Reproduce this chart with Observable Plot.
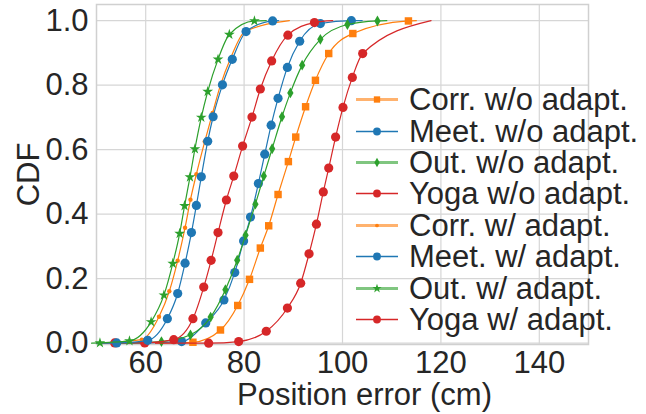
<!DOCTYPE html>
<html><head><meta charset="utf-8">
<script src="https://cdn.jsdelivr.net/npm/d3@7"></script>
<script src="https://cdn.jsdelivr.net/npm/@observablehq/plot@0.6"></script>
<style>
body{margin:0;background:#fff;}
#wrap{position:relative;width:646px;height:414px;overflow:hidden;}
#legend{position:absolute;left:350px;top:84px;font-family:"Liberation Sans",Arial,sans-serif;font-size:31px;color:#262626;}
.row{display:flex;align-items:center;height:31.4px;}
.row svg{width:52px;height:31px;flex:none;overflow:visible;}
.row span{margin-left:7px;white-space:nowrap;line-height:31px;}
g[aria-label="x-axis label"] text, g[aria-label="y-axis label"] text{font-size:31px;}
</style></head><body><div id="wrap"></div><script>
// ---- data ----
const seriesNames = ["Corr. w/o adapt.", "Meet. w/o adapt.", "Out. w/o adapt.", "Yoga w/o adapt.",
                     "Corr. w/ adapt.", "Meet. w/ adapt.", "Out. w/ adapt.", "Yoga w/ adapt."];
const xTicks = [60, 80, 100, 120, 140];
const yTicks = [0, 0.2, 0.4, 0.6, 0.8, 1.0];

const corrWoX = [69.6, 75.2, 78.7, 81.1, 83.3, 85.0, 86.9, 89.0, 90.5, 92.5, 94.5, 97.2, 102.1, 113.4];
const corrWoY = [0.003, 0.041, 0.117, 0.198, 0.295, 0.364, 0.461, 0.563, 0.639, 0.733, 0.815, 0.898, 0.960, 0.999];
const meetWoX = [67.3, 72.2, 75.9, 78.1, 79.9, 81.3, 82.9, 84.2, 85.5, 86.9, 88.8, 91.3, 95.5, 101.8];
const meetWoY = [0.005, 0.063, 0.134, 0.219, 0.317, 0.391, 0.495, 0.586, 0.676, 0.759, 0.855, 0.936, 0.991, 1.0];
const outWoX  = [63.2, 69.1, 73.2, 76.2, 78.6, 80.3, 82.3, 84.0, 85.7, 87.7, 89.4, 91.8, 95.5, 101.0, 107.1];
const outWoY  = [0.005, 0.026, 0.081, 0.166, 0.257, 0.335, 0.431, 0.518, 0.603, 0.702, 0.776, 0.862, 0.942, 0.988, 0.999];
const yogaWoX = [53.7, 59.8, 65.7, 69.6, 71.8, 73.3, 74.7, 76.4, 77.9, 79.7, 81.6, 83.3, 85.6, 88.9, 94.3];
const yogaWoY = [0.001, 0.001, 0.011, 0.076, 0.174, 0.257, 0.343, 0.444, 0.518, 0.611, 0.701, 0.788, 0.875, 0.955, 0.994];
const corrWX  = [59.2, 62.7, 64.8, 66.5, 68.0, 69.1, 70.3, 72.0, 73.6, 75.2, 77.3, 80.1];
const corrWY  = [0.011, 0.082, 0.161, 0.256, 0.358, 0.445, 0.524, 0.625, 0.714, 0.800, 0.885, 0.965];
const meetWX  = [54.1, 60.4, 64.4, 66.5, 68.0, 69.3, 70.3, 71.3, 72.6, 73.7, 75.6, 77.6, 80.4, 85.8];
const meetWY  = [0.001, 0.009, 0.076, 0.154, 0.248, 0.343, 0.427, 0.516, 0.626, 0.702, 0.801, 0.880, 0.966, 0.999];
const outWX   = [50.7, 56.7, 61.1, 63.7, 65.5, 66.9, 67.9, 69.0, 70.0, 71.3, 72.6, 74.7, 77.0, 82.1];
const outWY   = [0.001, 0.007, 0.066, 0.149, 0.247, 0.340, 0.426, 0.515, 0.602, 0.700, 0.780, 0.880, 0.957, 0.999];
const yogaWX  = [72.8, 78.9, 84.5, 88.8, 91.5, 93.2, 94.7, 96.1, 97.2, 98.6, 100.1, 102.0, 104.1];
const yogaWY  = [0.000, 0.005, 0.037, 0.109, 0.186, 0.277, 0.369, 0.469, 0.543, 0.639, 0.731, 0.824, 0.898];
// smallest / largest error in each series (CDF 0 and 1)
const lineStart = [62, 55, 55, 50, 50, 50, 49, 62];
const lineEnd   = [115, 104, 109, 98, 89.2, 87, 84.5, 118];

// ---- styles ----
const colors = ["#ff7f0e", "#1f77b4", "#2ca02c", "#d62728", "#ff7f0e", "#1f77b4", "#2ca02c", "#d62728"];
const symbols = ["square", "circle", "diamond", "circle", "circle", "circle", "star", "circle"];
const radii = [4.2, 4.6, 3.3, 4.6, 2.2, 4.6, 3.4, 4.6];
const legendFaded = [true, false, true, false, true, false, true, false];

const xs = [corrWoX, meetWoX, outWoX, yogaWoX, corrWX, meetWX, outWX, yogaWX];
const ys = [corrWoY, meetWoY, outWoY, yogaWoY, corrWY, meetWY, outWY, yogaWY];

const points = seriesNames.map((s, i) => xs[i].map((x, j) => ({series: s, x, y: ys[i][j]})));
const lines = seriesNames.map((s, i) => [{series: s, x: lineStart[i], y: 0}, ...points[i], {series: s, x: lineEnd[i], y: 1}]);

const marks = [
  Plot.gridX(xTicks, {stroke: "#d6d6d6", strokeOpacity: 1, strokeWidth: 1.2}),
  Plot.gridY(yTicks, {stroke: "#d6d6d6", strokeOpacity: 1, strokeWidth: 1.2}),
  Plot.frame({stroke: "#d0d0d0", strokeWidth: 1.5}),
  Plot.axisX({ticks: xTicks, tickSize: 0, tickPadding: 6, label: "Position error (cm)", labelAnchor: "center", labelArrow: "none", labelOffset: 62}),
  Plot.axisY({ticks: yTicks, tickSize: 0, tickPadding: 8, tickFormat: d3.format(".1f"), label: "CDF", labelAnchor: "center", labelArrow: "none", labelOffset: 80})
];
seriesNames.forEach((s, i) => {
  marks.push(Plot.line(lines[i], {x: "x", y: "y", stroke: colors[i], strokeWidth: 1.2, curve: "monotone-x"}));
  marks.push(Plot.dot(points[i], {x: "x", y: "y", symbol: symbols[i], r: radii[i], fill: colors[i], stroke: "none"}));
});

const chart = Plot.plot({
  width: 646, height: 414,
  marginLeft: 96, marginRight: 58, marginTop: 4, marginBottom: 70,
  x: {domain: [50, 150]},
  y: {domain: [-0.004, 1.05]},
  style: {fontFamily: "'Liberation Sans', Arial, sans-serif", fontSize: "31px", color: "#262626", background: "white"},
  marks
});
const wrap = document.getElementById("wrap");
wrap.appendChild(chart);
// nudge the x-axis title as in the reference
d3.select(chart).selectAll('g[aria-label="x-axis label"]').each(function() {
  const t = this.getAttribute("transform") || "";
  this.setAttribute("transform", t + " translate(22,-2)");
});

// ---- legend overlay ----
const legend = d3.select(wrap).append("div").attr("id", "legend");
seriesNames.forEach((s, i) => {
  const row = legend.append("div").attr("class", "row");
  const svg = row.append("svg");
  svg.append("line").attr("x1", 6).attr("x2", 48).attr("y1", 15.5).attr("y2", 15.5)
    .attr("stroke", colors[i]).attr("stroke-width", legendFaded[i] ? 3 : 1.5)
    .attr("stroke-opacity", legendFaded[i] ? 0.6 : 1);
  const sym = {square: d3.symbolSquare, circle: d3.symbolCircle, diamond: d3.symbolDiamond, star: d3.symbolStar}[symbols[i]];
  const r = radii[i] * 0.85;
  svg.append("path").attr("transform", "translate(27,15.5)")
    .attr("d", d3.symbol(sym, Math.PI * r * r)()).attr("fill", colors[i]);
  row.append("span").text(s);
});
</script></body></html>
